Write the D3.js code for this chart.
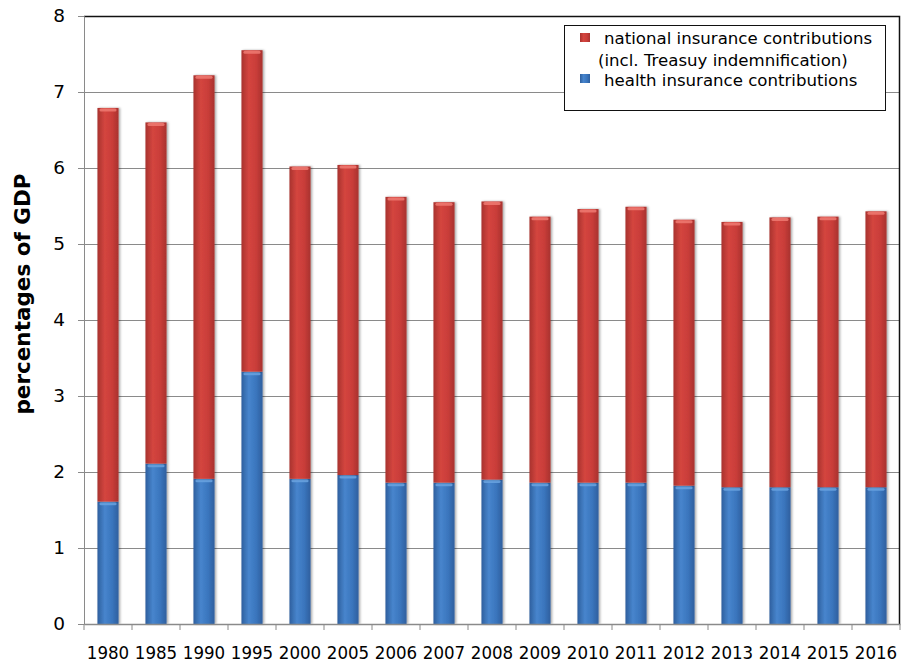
<!DOCTYPE html>
<html><head><meta charset="utf-8">
<script src="https://cdn.jsdelivr.net/npm/d3@7"></script>
<style>body{margin:0;background:#fff}svg{display:block}</style>
</head><body>
<svg id="c" width="903" height="662"></svg>
<script>
const years = ["1980","1985","1990","1995","2000","2005","2006","2007","2008","2009","2010","2011","2012","2013","2014","2015","2016"];
const totals = [6.79,6.60,7.22,7.55,6.02,6.04,5.62,5.55,5.56,5.36,5.46,5.49,5.32,5.29,5.35,5.36,5.43];
const health = [1.61,2.11,1.91,3.32,1.91,1.96,1.86,1.86,1.90,1.86,1.86,1.86,1.82,1.80,1.80,1.80,1.80];
const national = totals.map((t,i)=>+(t-health[i]).toFixed(2));
const yTicks = [0,1,2,3,4,5,6,7,8];
const legendLines = ["national insurance contributions","(incl. Treasuy indemnification)","health insurance contributions"];

const svg = d3.select("#c");
const m = {l:84, r:900, t:16, b:624};
const x = d3.scaleBand().domain(years).range([m.l,m.r]).paddingInner(0.56).paddingOuter(0.28);
const y = d3.scaleLinear().domain([0,8]).range([m.b,m.t]);

const defs = svg.append("defs");
function grad(id, edge, mid, light){
  const g = defs.append("linearGradient").attr("id",id).attr("x1","0").attr("x2","1").attr("y1","0").attr("y2","0");
  g.append("stop").attr("offset","0").attr("stop-color",edge);
  g.append("stop").attr("offset","0.35").attr("stop-color",light);
  g.append("stop").attr("offset","0.7").attr("stop-color",mid);
  g.append("stop").attr("offset","1").attr("stop-color",edge);
}
grad("gr","#a8322e","#c93d39","#d4453f");
grad("gb","#2e5f9e","#3a75bd","#4785cd");
const f = defs.append("filter").attr("id","sh").attr("x","-30%").attr("y","-5%").attr("width","160%").attr("height","110%");
f.append("feDropShadow").attr("dx",1.5).attr("dy",0).attr("stdDeviation",1.2).attr("flood-color","#000").attr("flood-opacity",0.35);

// gridlines
svg.append("g").selectAll("line").data(yTicks.filter(d=>d>0)).join("line")
  .attr("x1",m.l).attr("x2",m.r).attr("y1",d=>y(d)+0.5).attr("y2",d=>y(d)+0.5)
  .attr("stroke","#8a8a8a").attr("stroke-width",1);
// border top/right
svg.append("path").attr("d",`M${m.l},${m.t+0.5}H${m.r-0.5}V${m.b}`).attr("fill","none").attr("stroke","#111").attr("stroke-width",1.5);

// bars
const series = [
  {key:"h", vals:health, base:()=>0, fill:"url(#gb)", cap:"#6aa3e0"},
  {key:"n", vals:national, base:i=>health[i], fill:"url(#gr)", cap:"#ee7a72"}
];
series.forEach(s=>{
  const g = svg.append("g").attr("filter","url(#sh)");
  g.selectAll("rect").data(years).join("rect")
    .attr("x",d=>x(d)).attr("width",x.bandwidth())
    .attr("y",(d,i)=>y(s.base(i)+s.vals[i]))
    .attr("height",(d,i)=>y(s.base(i))-y(s.base(i)+s.vals[i]))
    .attr("fill",s.fill);
  svg.append("g").selectAll("rect").data(years).join("rect")
    .attr("x",d=>x(d)+2).attr("width",x.bandwidth()-4)
    .attr("y",(d,i)=>y(s.base(i)+s.vals[i])+0.5)
    .attr("height",3).attr("rx",1.5)
    .attr("fill",s.cap).attr("opacity",0.85);
});

// axes
const yAxis = svg.append("g").attr("transform",`translate(${m.l},0)`)
  .call(d3.axisLeft(y).tickValues(yTicks).tickSize(6).tickPadding(13).tickFormat(d3.format("d")));
yAxis.select(".domain").attr("stroke","#8a8a8a");
yAxis.selectAll(".tick line").attr("stroke","#8a8a8a");
yAxis.selectAll("text").attr("font-family","DejaVu Sans").attr("font-size",18.5).attr("fill","#000");

const xb = d3.scaleBand().domain(years).range([m.l,m.r]);
const xAxis = svg.append("g").attr("transform",`translate(0,${m.b})`)
  .call(d3.axisBottom(xb).tickSize(0).tickPadding(22));
xAxis.select(".domain").attr("stroke","#8a8a8a").attr("stroke-width",1.5);
xAxis.selectAll("text").attr("font-family","DejaVu Sans Condensed").attr("font-size",18.5).attr("fill","#000");
svg.append("g").selectAll("line").data(years.concat(["_end"])).join("line")
  .attr("x1",(d,i)=>m.l+i*xb.step()).attr("x2",(d,i)=>m.l+i*xb.step())
  .attr("y1",m.b).attr("y2",m.b+6).attr("stroke","#8a8a8a");

// y title
svg.append("text").attr("transform","translate(30,294) rotate(-90)")
  .attr("text-anchor","middle").attr("font-family","DejaVu Sans").attr("font-weight","bold")
  .attr("font-size",21.5).text("percentages of GDP");

// legend
const lg = svg.append("g");
lg.append("rect").attr("x",564.5).attr("y",25.5).attr("width",321).attr("height",85).attr("fill","#fff").attr("stroke","#111");
lg.append("rect").attr("x",580).attr("y",33).attr("width",10).attr("height",9).attr("fill","url(#gr)");
lg.append("rect").attr("x",580).attr("y",74).attr("width",10).attr("height",9).attr("fill","url(#gb)");
lg.selectAll("text").data(legendLines).join("text")
  .attr("x",(d,i)=>i===1?598:604).attr("y",(d,i)=>[44,66,86][i])
  .attr("font-family","DejaVu Sans").attr("font-size",16.6).attr("fill","#000").text(d=>d);
</script>
</body></html>
